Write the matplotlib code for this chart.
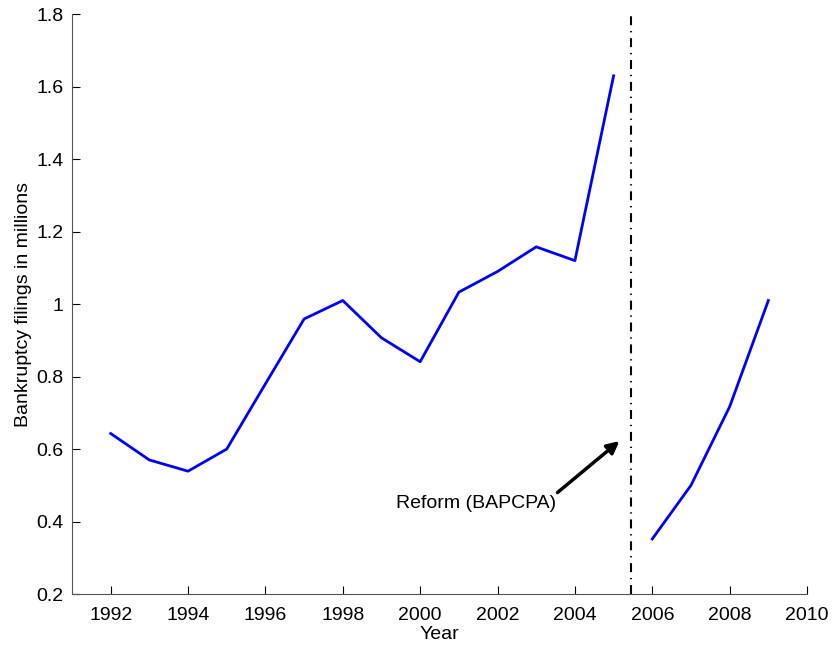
import matplotlib
matplotlib.use('Agg')
import matplotlib.pyplot as plt

plt.rcParams['font.family'] = ['Liberation Sans', 'DejaVu Sans']

# filings before and after the 2005 reform
years_pre = [1992, 1993, 1994, 1995, 1996, 1997, 1998, 1999, 2000, 2001, 2002, 2003, 2004, 2005]
filings_pre = [0.643, 0.570, 0.539, 0.600, 0.780, 0.959, 1.010, 0.907, 0.841, 1.033, 1.090, 1.158, 1.120, 1.630]
years_post = [2006, 2007, 2008, 2009]
filings_post = [0.352, 0.500, 0.717, 1.010]
reform_date = 2005.45

fs = 14

fig = plt.figure(figsize=(8.32, 6.45), dpi=100)
ax = fig.add_axes([0.0865, 0.079, 0.8835, 0.899])

ax.plot(years_pre, filings_pre, color='#0000ff', lw=2)
ax.plot(years_post, filings_post, color='#0000ff', lw=2)
ax.axvline(reform_date, color='black', ls=(0, (4.3, 2.8, 0.6, 2.8)), lw=1.5)

ax.annotate('Reform (BAPCPA)', xy=(2005.15, 0.622), xytext=(2001.45, 0.449),
            ha='center', va='center', fontsize=fs,
            arrowprops=dict(arrowstyle='-|>', color='black', lw=2.5, mutation_scale=18,
                            shrinkA=0, shrinkB=0, relpos=(0.98, 0.95)))

ax.set_xlim(1991, 2010)
ax.set_ylim(0.2, 1.8)
ax.set_xticks(range(1992, 2011, 2))
ax.set_yticks([0.2, 0.4, 0.6, 0.8, 1, 1.2, 1.4, 1.6, 1.8])
ax.set_yticklabels(['0.2', '0.4', '0.6', '0.8', '1', '1.2', '1.4', '1.6', '1.8'])
ax.tick_params(direction='in', length=6, labelsize=fs, colors='black')
ax.tick_params(axis='y', pad=6)
ax.tick_params(axis='x', pad=9)
for s in ['top', 'right']:
    ax.spines[s].set_visible(False)
for s in ['left', 'bottom']:
    ax.spines[s].set_color('#555555')

ax.set_xlabel('Year', fontsize=fs, labelpad=2)
ax.set_ylabel('Bankruptcy filings in millions', fontsize=fs, labelpad=3)

fig.savefig('out.png', dpi=100)
